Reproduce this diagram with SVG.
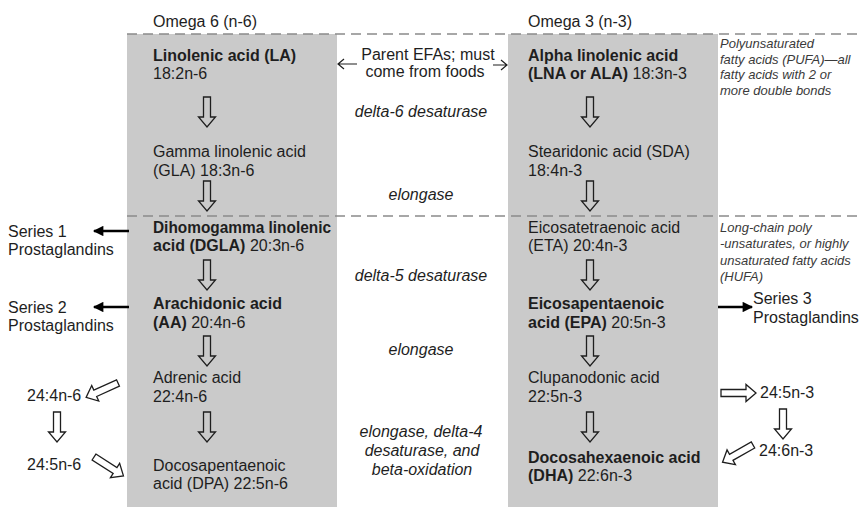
<svg xmlns="http://www.w3.org/2000/svg" width="862" height="507" viewBox="0 0 862 507">
<style>
text{font-family:"Liberation Sans",Arial,sans-serif;font-size:16px;fill:#1e1e1e}
.b{font-weight:bold}
.i{font-style:italic}
.c{text-anchor:middle}
.s{font-size:13px;font-style:italic;fill:#3a3a3a}
.box{fill:#cacaca}
.dash{stroke:#8a8a8a;stroke-width:1.5;stroke-dasharray:10 6;fill:none}
.ha{fill:none;stroke:#1e1e1e;stroke-width:1.3;stroke-linejoin:miter}
.sa{stroke:#000;stroke-width:2.6;fill:none}
.ta{stroke:#1e1e1e;stroke-width:1.2;fill:none}
</style>
<defs>
<path id="h30" d="M0,-3.5 H20 V-8.5 L30,0 L20,8.5 V3.5 H0 Z"/>
<path id="h35" d="M0,-3.5 H25 V-8.5 L35,0 L25,8.5 V3.5 H0 Z"/>
<marker id="fh" viewBox="0 0 10 10" refX="9" refY="5" markerWidth="4.4" markerHeight="4" orient="auto" markerUnits="strokeWidth">
<path d="M0,0 L10,5 L0,10 Z" fill="#000"/>
</marker>
</defs>
<rect width="862" height="507" fill="#fff"/>
<g id="columns">
<rect class="box" x="127" y="34" width="210" height="473"/>
<rect class="box" x="508" y="34" width="210" height="473"/>
<line class="dash" x1="127" y1="34" x2="862" y2="34"/>
<line class="dash" x1="127" y1="216" x2="862" y2="216"/>
</g>
<g id="headers">
<text x="153" y="27">Omega 6 (n-6)</text>
<text x="528" y="27">Omega 3 (n-3)</text>
</g>
<g id="n6-LA"><text x="153" y="61" class="b">Linolenic acid (LA)</text><text x="153" y="79">18:2n-6</text></g>
<g id="n6-GLA"><text x="153" y="157">Gamma linolenic acid</text><text x="153" y="176">(GLA) 18:3n-6</text></g>
<g id="n6-DGLA"><text x="153" y="233" class="b" textLength="178" lengthAdjust="spacingAndGlyphs">Dihomogamma linolenic</text><text x="153" y="251"><tspan class="b">acid (DGLA)</tspan> 20:3n-6</text></g>
<g id="n6-AA"><text x="153" y="309" class="b">Arachidonic acid</text><text x="153" y="328"><tspan class="b">(AA)</tspan> 20:4n-6</text></g>
<g id="n6-adrenic"><text x="153" y="383">Adrenic acid</text><text x="153" y="402">22:4n-6</text></g>
<g id="n6-DPA"><text x="153" y="471">Docosapentaenoic</text><text x="153" y="489">acid (DPA) 22:5n-6</text></g>
<g id="n3-ALA"><text x="528" y="61" class="b">Alpha linolenic acid</text><text x="528" y="79"><tspan class="b">(LNA or ALA)</tspan> 18:3n-3</text></g>
<g id="n3-SDA"><text x="528" y="157">Stearidonic acid (SDA)</text><text x="528" y="176">18:4n-3</text></g>
<g id="n3-ETA"><text x="528" y="233">Eicosatetraenoic acid</text><text x="528" y="251">(ETA) 20:4n-3</text></g>
<g id="n3-EPA"><text x="528" y="309" class="b">Eicosapentaenoic</text><text x="528" y="328"><tspan class="b">acid (EPA)</tspan> 20:5n-3</text></g>
<g id="n3-clup"><text x="528" y="383">Clupanodonic acid</text><text x="528" y="402">22:5n-3</text></g>
<g id="n3-DHA"><text x="528" y="463" class="b">Docosahexaenoic acid</text><text x="528" y="481"><tspan class="b">(DHA)</tspan> 22:6n-3</text></g>
<g id="parent"><text x="428" y="60" class="c">Parent EFAs; must</text><text x="425" y="77" class="c">come from foods</text></g>
<g id="enz-d6"><text x="421" y="117" class="c i">delta-6 desaturase</text></g>
<g id="enz-elo1"><text x="421" y="200" class="c i">elongase</text></g>
<g id="enz-d5"><text x="421" y="281" class="c i">delta-5 desaturase</text></g>
<g id="enz-elo2"><text x="421" y="355" class="c i">elongase</text></g>
<g id="enz-last"><text x="421" y="437" class="c i">elongase, delta-4</text><text x="422" y="456" class="c i">desaturase, and</text><text x="422" y="475" class="c i">beta-oxidation</text></g>
<g id="note-pufa"><text x="720" y="48" class="s">Polyunsaturated</text><text x="720" y="64" class="s">fatty acids (PUFA)—all</text><text x="720" y="79" class="s">fatty acids with 2 or</text><text x="720" y="95" class="s">more double bonds</text></g>
<g id="note-hufa"><text x="720" y="232" class="s">Long-chain poly</text><text x="720" y="248" class="s">-unsaturates, or highly</text><text x="720" y="265" class="s">unsaturated fatty acids</text><text x="720" y="281" class="s">(HUFA)</text></g>
<g id="series1"><text x="8" y="237">Series 1</text><text x="8" y="255">Prostaglandins</text></g>
<g id="series2"><text x="8" y="313">Series 2</text><text x="8" y="331">Prostaglandins</text></g>
<g id="series3"><text x="753" y="304">Series 3</text><text x="753" y="323">Prostaglandins</text></g>
<g id="n6-24-4"><text x="27" y="401">24:4n-6</text></g>
<g id="n6-24-5"><text x="27" y="470">24:5n-6</text></g>
<g id="n3-24-5"><text x="760" y="398">24:5n-3</text></g>
<g id="n3-24-6"><text x="759" y="456">24:6n-3</text></g>
<g id="connectors">
<use href="#h30" class="ha" transform="translate(207,97) rotate(90)"/>
<use href="#h30" class="ha" transform="translate(207,181) rotate(90)"/>
<use href="#h30" class="ha" transform="translate(207,260) rotate(90)"/>
<use href="#h30" class="ha" transform="translate(207,336) rotate(90)"/>
<use href="#h30" class="ha" transform="translate(207,412) rotate(90)"/>
<use href="#h30" class="ha" transform="translate(590,97) rotate(90)"/>
<use href="#h30" class="ha" transform="translate(590,181) rotate(90)"/>
<use href="#h30" class="ha" transform="translate(590,260) rotate(90)"/>
<use href="#h30" class="ha" transform="translate(590,336) rotate(90)"/>
<use href="#h30" class="ha" transform="translate(590,412) rotate(90)"/>
<use href="#h30" class="ha" transform="translate(57,412) rotate(90)"/>
<use href="#h30" class="ha" transform="translate(783,409) rotate(90)"/>
<use href="#h35" class="ha" transform="translate(118,383) rotate(155.6)"/>
<use href="#h35" class="ha" transform="translate(94,457) rotate(32.7)"/>
<use href="#h35" class="ha" transform="translate(721,393)"/>
<use href="#h35" class="ha" transform="translate(753,445) rotate(150.5)"/>
<line class="sa" x1="129" y1="231" x2="94" y2="231" marker-end="url(#fh)"/>
<line class="sa" x1="129" y1="307" x2="94" y2="307" marker-end="url(#fh)"/>
<line class="sa" x1="718" y1="307" x2="752" y2="307" marker-end="url(#fh)"/>
<path class="ta" d="M357,64 H338 M344,59 L338,64 L344,69"/>
<path class="ta" d="M493,65 H507 M501,60 L507,65 L501,70"/>
</g>
</svg>
